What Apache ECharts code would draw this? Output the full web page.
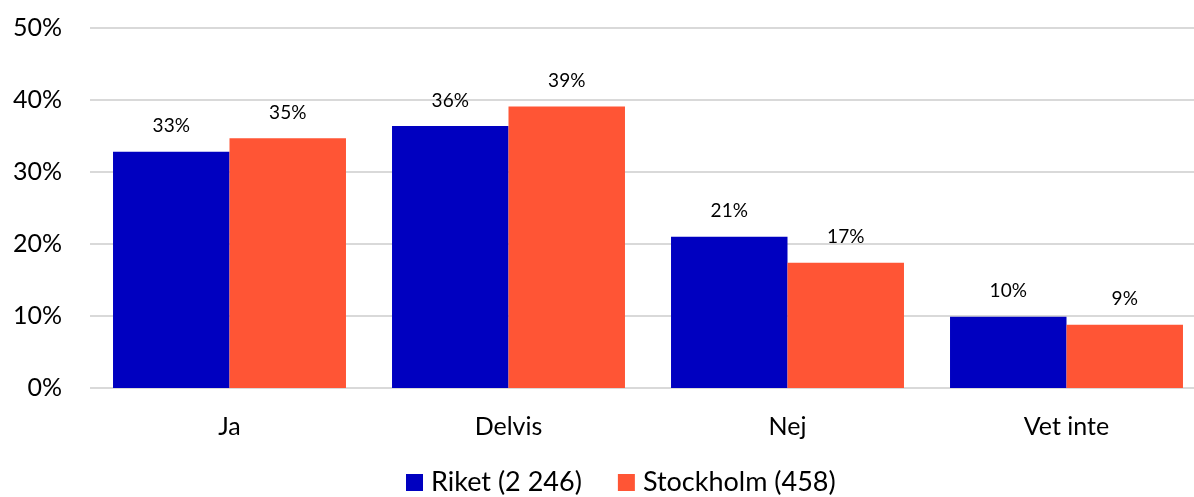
<!DOCTYPE html>
<html>
<head>
<meta charset="utf-8">
<script src="https://cdn.jsdelivr.net/npm/echarts@6/dist/echarts.min.js"></script>
<style>
  html, body { margin: 0; padding: 0; background: #fff; }
  #chart { width: 1194px; height: 497px; }
</style>
</head>
<body>
<div id="chart"></div>
<script>
// data
let categories = ['Ja', 'Delvis', 'Nej', 'Vet inte'];
let riket = [32.8, 36.4, 21.0, 9.9];
let stockholm = [34.7, 39.1, 17.4, 8.8];
let seriesNames = ['Riket (2 246)', 'Stockholm (458)'];
let yTicks = [0, 10, 20, 30, 40, 50];

let font = 'Lato, "Open Sans", sans-serif';

let myChart = echarts.init(document.getElementById('chart'));
let option = {
    animation: false,
    textStyle: { fontFamily: font },
    grid: { left: 90, top: 28, width: 1116, height: 360, outerBoundsMode: 'none' },
    legend: {
        bottom: -4,
        left: 401,
        itemWidth: 17,
        itemHeight: 17,
        itemGap: 36,
        icon: 'rect',
        textStyle: { fontSize: 27, color: '#000', fontFamily: font, padding: [0, 0, 0, 3] },
        data: seriesNames
    },
    xAxis: {
        type: 'category',
        data: categories,
        axisLine: { show: false },
        axisTick: { show: false },
        axisLabel: { fontSize: 25, color: '#000', margin: 26 }
    },
    yAxis: {
        type: 'value',
        min: yTicks[0],
        max: yTicks[yTicks.length - 1],
        interval: 10,
        axisLabel: { fontSize: 25, color: '#000', margin: 28, formatter: '{value}%' },
        splitLine: { lineStyle: { color: '#d9d9d9', width: 2 } },
        axisLine: { show: false },
        axisTick: { show: false }
    },
    series: [
        {
            name: seriesNames[0],
            type: 'bar',
            data: riket,
            barGap: '0%',
            barCategoryGap: '16.5%',
            itemStyle: { color: '#0000c0' },
            label: {
                show: true, position: 'top', distance: 16,
                fontSize: 19, color: '#000',
                formatter: p => Math.round(p.value) + '%'
            }
        },
        {
            name: seriesNames[1],
            type: 'bar',
            data: stockholm,
            barGap: '0%',
            barCategoryGap: '16.5%',
            itemStyle: { color: '#ff5535' },
            label: {
                show: true, position: 'top', distance: 16,
                fontSize: 19, color: '#000',
                formatter: p => Math.round(p.value) + '%'
            }
        }
    ]
};
myChart.setOption(option, true);
</script>
</body>
</html>
